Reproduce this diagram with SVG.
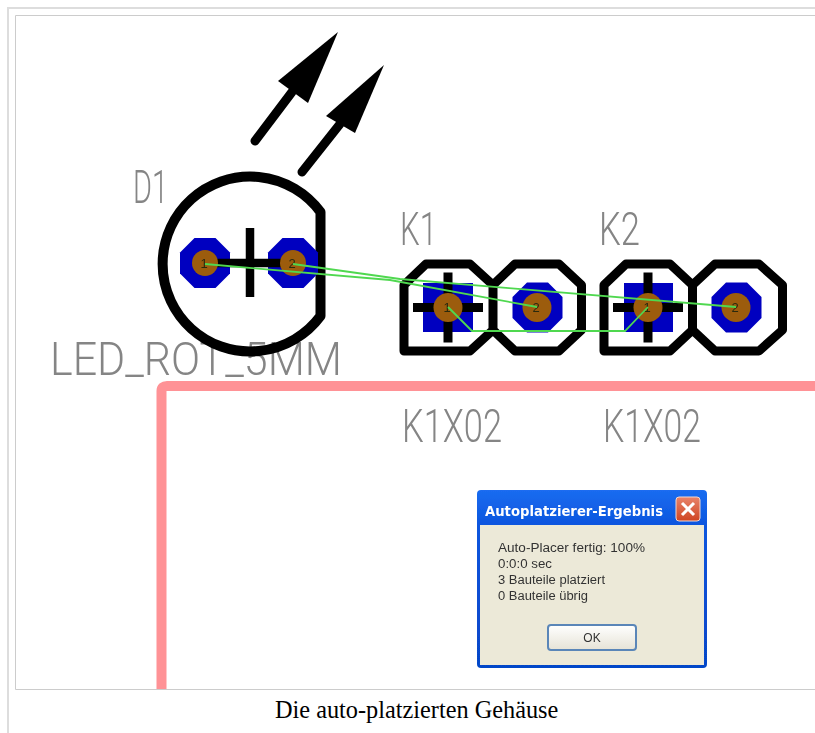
<svg xmlns="http://www.w3.org/2000/svg" width="815" height="733" viewBox="0 0 815 733">
<defs>
<style>
.ink{fill:none;stroke:#000;stroke-linejoin:round;stroke-linecap:butt}
.pad{fill:#0000c0}
.hole{fill:#9c5c08}
.num{font-family:"Liberation Sans",sans-serif;font-size:13px;fill:#2a2a10;text-anchor:middle}
.lbl{font-family:Roboto,"Liberation Sans",sans-serif;font-weight:300;font-size:46px;fill:#858585}
.dlg{font-family:"Liberation Sans",sans-serif;font-size:12px;fill:#333}
.rat{fill:none;stroke:#50d850;stroke-width:1.8}
</style>
<linearGradient id="title" x1="0" y1="0" x2="0" y2="1"><stop offset="0" stop-color="#1a6cf0"/><stop offset="0.2" stop-color="#0a55de"/><stop offset="1" stop-color="#0646c8"/></linearGradient>
<linearGradient id="btn" x1="0" y1="0" x2="0" y2="1"><stop offset="0" stop-color="#fff"/><stop offset="1" stop-color="#e6e3d6"/></linearGradient>
<linearGradient id="close" x1="0" y1="0" x2="0" y2="1"><stop offset="0" stop-color="#e8836a"/><stop offset="1" stop-color="#cf4522"/></linearGradient>
<filter id="soft" x="-5%" y="-5%" width="110%" height="110%"><feGaussianBlur stdDeviation="0.6"/></filter>
<filter id="softer" x="-5%" y="-5%" width="110%" height="110%"><feGaussianBlur stdDeviation="0.45"/></filter>
<polygon id="oct" points="-10.5,-25 10.5,-25 25,-10.5 25,10.5 10.5,25 -10.5,25 -25,10.5 -25,-10.5"/>
<path id="cross" d="M0,-35V35M-35,0H35" fill="none" stroke="#000" stroke-width="9"/>
</defs>
<rect width="815" height="733" fill="#fff"/>
<g id="frame" fill="none">
<path d="M8,733V8H815" stroke="#ddd" stroke-width="2"/>
<path d="M815,15.500H15.500V689.500H815" stroke="#ccc" stroke-width="1"/>
</g>
<g id="labels" filter="url(#soft)">
<text class="lbl" x="133" y="203" textLength="35" lengthAdjust="spacingAndGlyphs">D1</text>
<text class="lbl" x="50" y="375" textLength="292" lengthAdjust="spacingAndGlyphs">LED_ROT_5MM</text>
<text class="lbl" x="400" y="245" textLength="37" lengthAdjust="spacingAndGlyphs">K1</text>
<text class="lbl" x="599" y="245" textLength="41" lengthAdjust="spacingAndGlyphs">K2</text>
<text class="lbl" x="402" y="442" textLength="100" lengthAdjust="spacingAndGlyphs">K1X02</text>
<text class="lbl" x="603" y="442" textLength="98" lengthAdjust="spacingAndGlyphs">K1X02</text>
</g>
<g id="D1" filter="url(#soft)">
<path class="ink" stroke-width="10" d="M320.500,212A87.500,87.500 0 1 0 320.500,316Z"/>
<path d="M255,141L292,92" stroke="#000" stroke-width="9" stroke-linecap="round" fill="none"/>
<polygon points="338,32 278,81 308,103"/>
<path d="M302,172L340,124" stroke="#000" stroke-width="9" stroke-linecap="round" fill="none"/>
<polygon points="384,65 326,116 355,133"/>
<use href="#oct" x="205" y="263" class="pad"/>
<use href="#oct" x="293" y="263" class="pad"/>
<path d="M250,228V297M205,263H293" fill="none" stroke="#000" stroke-width="8.500"/>
<circle class="hole" cx="205" cy="263" r="13"/>
<circle class="hole" cx="293" cy="263" r="13"/>
<text class="num" x="204" y="268">1</text>
<text class="num" x="292" y="268">2</text>
</g>
<g id="K1" filter="url(#soft)">
<rect class="pad" x="423" y="283" width="50" height="49"/>
<use href="#oct" x="537.500" y="307.500" class="pad"/>
<use href="#cross" x="448" y="307.500"/>
<path class="ink" stroke-width="9" d="M404,351V285L426,264H470L493,285L515,264H559L581.500,285V330L559,351H515L493,330L470,351ZM493,285V330"/>
<circle class="hole" cx="448" cy="307.500" r="14.500"/>
<circle class="hole" cx="537" cy="307.500" r="14.500"/>
<text class="num" x="447" y="312">1</text>
<text class="num" x="536" y="312">2</text>
</g>
<g id="K2" filter="url(#soft)">
<rect class="pad" x="624" y="283" width="49" height="49"/>
<use href="#oct" x="736.500" y="307.500" class="pad"/>
<use href="#cross" x="648" y="307.500"/>
<path class="ink" stroke-width="9" d="M604,351V285L626,264H670L692.500,285L715,264H759L782.500,285V330L759,351H715L692.500,330L670,351ZM692.500,285V330"/>
<circle class="hole" cx="648" cy="307.500" r="14.500"/>
<circle class="hole" cx="736" cy="307.500" r="14.500"/>
<text class="num" x="647" y="312">1</text>
<text class="num" x="735" y="312">2</text>
</g>
<g id="outline" filter="url(#softer)">
<path d="M161.500,689V391Q161.500,386 167,386H815" fill="none" stroke="#ff9296" stroke-width="10"/>
</g>
<g id="connectors" filter="url(#softer)">
<path class="rat" d="M205,264L390,280L537,307"/>
<path class="rat" d="M293,264L400,279L736,307"/>
<path class="rat" d="M448,307L472,331H625L648,307"/>
</g>
<g id="dialog" filter="url(#softer)">
<rect x="477" y="490" width="230" height="178" rx="4" fill="url(#title)"/>
<rect x="480" y="525" width="224" height="140" fill="#ece9d8"/>
<text x="485" y="516" textLength="178" lengthAdjust="spacingAndGlyphs" font-family="'DejaVu Sans',sans-serif" font-weight="bold" font-size="13.500px" fill="#fff">Autoplatzierer-Ergebnis</text>
<rect x="676" y="497" width="24" height="24" rx="3" fill="url(#close)" stroke="#f0d8d0"/>
<path d="M682,503L694,515M694,503L682,515" stroke="#fff" stroke-width="3" fill="none"/>
<text class="dlg" x="498" y="552" textLength="147" lengthAdjust="spacingAndGlyphs">Auto-Placer fertig: 100%</text>
<text class="dlg" x="498" y="568" textLength="54" lengthAdjust="spacingAndGlyphs">0:0:0 sec</text>
<text class="dlg" x="498" y="584" textLength="107" lengthAdjust="spacingAndGlyphs">3 Bauteile platziert</text>
<text class="dlg" x="498" y="600" textLength="90" lengthAdjust="spacingAndGlyphs">0 Bauteile übrig</text>
<rect x="548" y="625" width="88" height="25" rx="3" fill="url(#btn)" stroke="#5a86b8" stroke-width="2"/>
<text class="dlg" x="592" y="642" text-anchor="middle">OK</text>
</g>
<g id="caption">
<text x="275" y="718" font-family="'Liberation Serif',serif" font-size="24.300px" fill="#000">Die auto-platzierten Gehäuse</text>
</g>
</svg>
